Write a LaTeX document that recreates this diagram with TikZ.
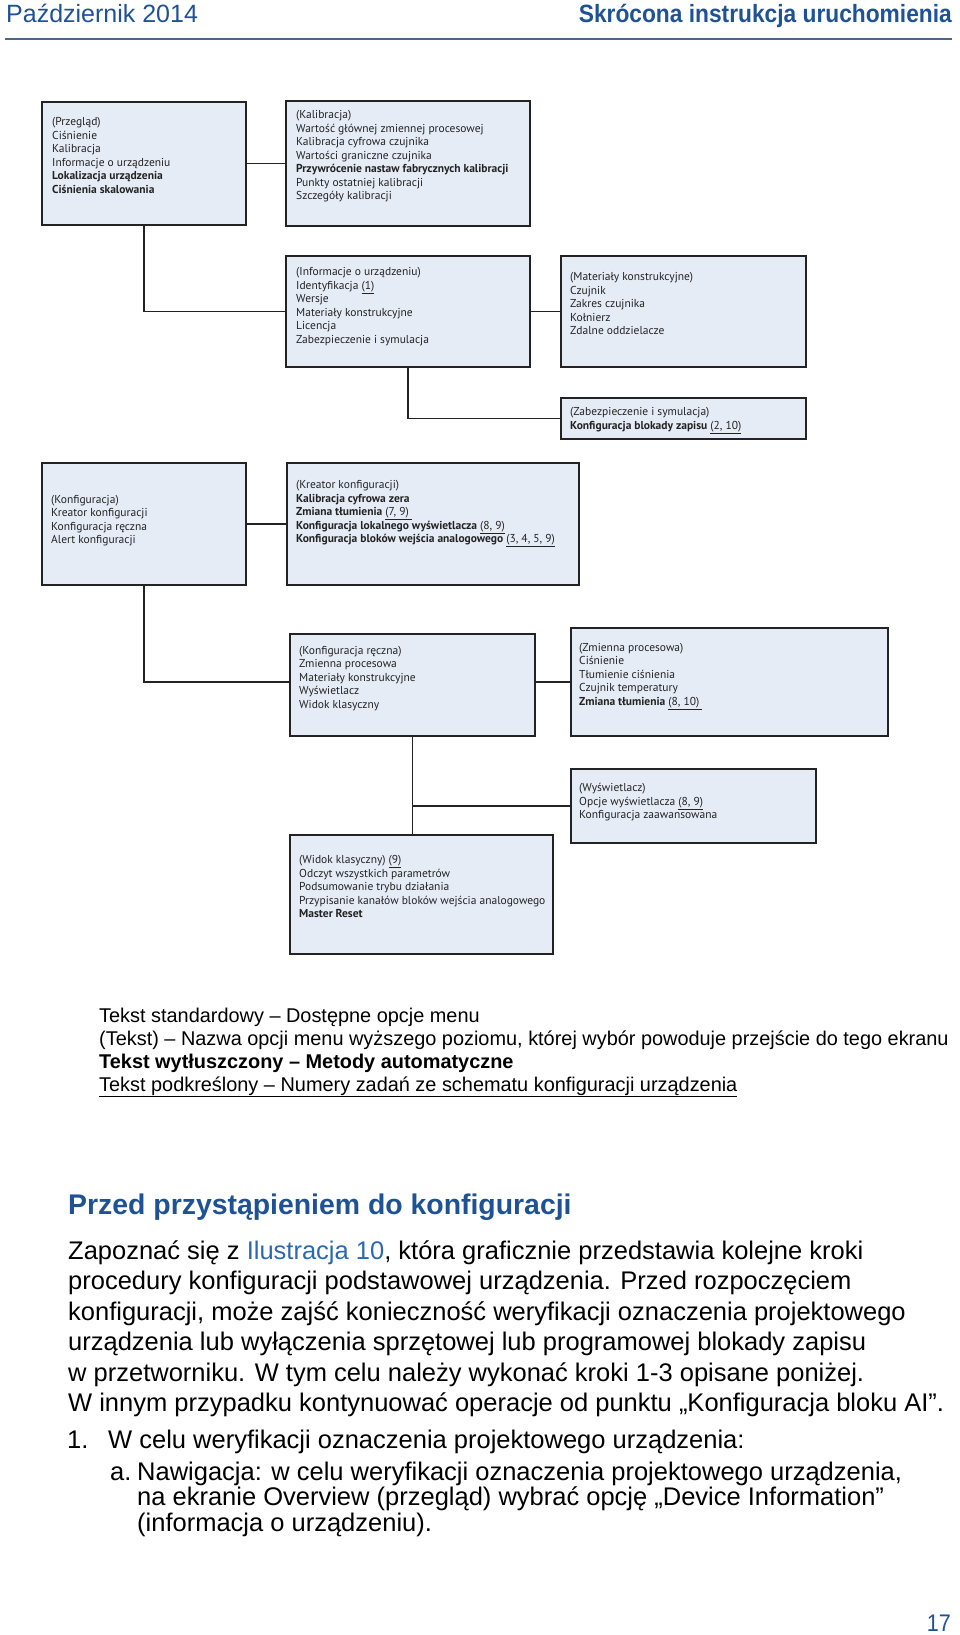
\documentclass[tikz,border=0pt]{standalone}
\usepackage{fontspec}
\setmainfont{Liberation Sans}
\newfontfamily\boxfont{PT Sans}

\definecolor{headblue}{RGB}{30,82,148}
\definecolor{linkblue}{RGB}{42,104,178}
\definecolor{boxfill}{RGB}{230,236,246}
\definecolor{inkgrey}{RGB}{35,35,35}

\tikzset{
  menubox/.style={draw=inkgrey, fill=boxfill, line width=1.6pt, rectangle, inner sep=0pt, outer sep=0pt},
  menutext/.style={anchor=base west, inner sep=0pt, align=left, text=inkgrey,
    font=\boxfont\fontsize{11.5}{13.5}\selectfont},
  wire/.style={draw=inkgrey, line width=1.6pt},
  bodytext/.style={anchor=base west, inner sep=0pt, align=left},
}

\begin{document}
\begin{tikzpicture}[x=1pt, y=-1pt]
  \useasboundingbox (0,0) rectangle (960,1635);

  % header
  \node[bodytext, text=headblue, font=\fontsize{25}{30}\selectfont] (date) at (6,23) {Październik 2014};
  \node[anchor=base east, inner sep=0pt, text=headblue, font=\bfseries\fontsize{25}{30}\selectfont] (title) at (952,23)
    {\scalebox{0.91}[1]{Skrócona instrukcja uruchomienia}};
  \draw[headblue!55!gray, line width=1.4pt] (5,39) -- (952,39);

  % menu boxes
  \node[menubox, minimum width=204, minimum height=123] (ovw) at (144,163.5) {};
  \node[menubox, minimum width=244, minimum height=125] (cal) at (408,163.5) {};
  \node[menubox, minimum width=244, minimum height=111] (info) at (408,311.5) {};
  \node[menubox, minimum width=245, minimum height=111] (mat) at (683.5,311.5) {};
  \node[menubox, minimum width=245, minimum height=41] (sec) at (683.5,418.5) {};
  \node[menubox, minimum width=204, minimum height=122] (cfg) at (144,524) {};
  \node[menubox, minimum width=292, minimum height=122] (wiz) at (433,524) {};
  \node[menubox, minimum width=245, minimum height=102] (man) at (412.5,685) {};
  \node[menubox, minimum width=317, minimum height=108] (pv) at (729.5,682) {};
  \node[menubox, minimum width=245, minimum height=74] (disp) at (693.5,806) {};
  \node[menubox, minimum width=263, minimum height=119] (cls) at (421.5,894.5) {};

  % box texts (placed by the baseline of their last line)
  \node[menutext] (ovwT) at (52,193) {(Przegląd)\\Ciśnienie\\Kalibracja\\Informacje o urządzeniu\\
    \textbf{Lokalizacja urządzenia}\\\textbf{Ciśnienia skalowania}};
  \node[menutext] (calT) at (296,199.5) {(Kalibracja)\\Wartość głównej zmiennej procesowej\\
    Kalibracja cyfrowa czujnika\\Wartości graniczne czujnika\\
    \textbf{Przywrócenie nastaw fabrycznych kalibracji}\\Punkty ostatniej kalibracji\\Szczegóły kalibracji};
  \node[menutext] (infoT) at (296,343) {(Informacje o urządzeniu)\\Identyfikacja \underline{(1)}\\Wersje\\
    Materiały konstrukcyjne\\Licencja\\Zabezpieczenie i symulacja};
  \node[menutext] (matT) at (570,334.5) {(Materiały konstrukcyjne)\\Czujnik\\Zakres czujnika\\Kołnierz\\Zdalne oddzielacze};
  \node[menutext] (secT) at (570,429) {(Zabezpieczenie i symulacja)\\
    \textbf{Konfiguracja blokady zapisu} \underline{(2, 10)}};
  \node[menutext] (cfgT) at (51,543.5) {(Konfiguracja)\\Kreator konfiguracji\\Konfiguracja ręczna\\Alert konfiguracji};
  \node[menutext] (wizT) at (296,542.5) {(Kreator konfiguracji)\\\textbf{Kalibracja cyfrowa zera}\\
    \textbf{Zmiana tłumienia} \underline{(7, 9)\ }\\
    \textbf{Konfiguracja lokalnego wyświetlacza} \underline{(8, 9)}\\
    \textbf{Konfiguracja bloków wejścia analogowego} \underline{(3, 4, 5, 9)}};
  \node[menutext] (manT) at (299,708) {(Konfiguracja ręczna)\\Zmienna procesowa\\Materiały konstrukcyjne\\
    Wyświetlacz\\Widok klasyczny};
  \node[menutext] (pvT) at (579,705) {(Zmienna procesowa)\\Ciśnienie\\Tłumienie ciśnienia\\Czujnik temperatury\\
    \textbf{Zmiana tłumienia} \underline{(8, 10)\ }};
  \node[menutext] (dispT) at (579,818.5) {(Wyświetlacz)\\Opcje wyświetlacza \underline{(8, 9)}\\
    Konfiguracja zaawansowana};
  \node[menutext] (clsT) at (299,917.5) {(Widok klasyczny) \underline{(9)}\\Odczyt wszystkich parametrów\\
    Podsumowanie trybu działania\\Przypisanie kanałów bloków wejścia analogowego\\\textbf{Master Reset}};

  % connectors
  \draw[wire] (ovw) -- (cal);
  \draw[wire] (ovw.south) |- (info.west);
  \draw[wire] (info) -- (mat);
  \draw[wire] (info.south) |- (sec.west);
  \draw[wire] (cfg) -- (wiz);
  \draw[wire] (cfg.south) |- (man.west |- pv.west);
  \draw[wire] (man.east |- pv.west) -- (pv.west);
  \draw[wire] (man.south) -- (man.south |- cls.north);
  \draw[wire] (man.south |- disp.west) -- (disp.west);

  % legend
  \node[bodytext, font=\fontsize{19.9}{23}\selectfont] (legend) at (99,1091)
    {Tekst standardowy – Dostępne opcje menu\\
     (Tekst) – Nazwa opcji menu wyższego poziomu, której wybór powoduje przejście do tego ekranu\\
     \textbf{Tekst wytłuszczony – Metody automatyczne}\\
     \underline{Tekst podkreślony – Numery zadań ze schematu konfiguracji urządzenia}};

  % text below
  \node[bodytext, text=headblue, font=\bfseries\fontsize{28.4}{30}\selectfont] (head) at (68,1214)
    {Przed przystąpieniem do konfiguracji};
  \node[bodytext, font=\fontsize{25.5}{30.5}\selectfont] (para) at (68,1411.5)
    {Zapoznać się z \textcolor{linkblue}{Ilustracja 10}, która graficznie przedstawia kolejne kroki\\
     procedury konfiguracji podstawowej urządzenia. Przed rozpoczęciem\\
     konfiguracji, może zajść konieczność weryfikacji oznaczenia projektowego\\
     urządzenia lub wyłączenia sprzętowej lub programowej blokady zapisu\\
     w przetworniku. W tym celu należy wykonać kroki 1-3 opisane poniżej.\\
     W innym przypadku kontynuować operacje od punktu „Konfiguracja bloku AI”.};
  \node[bodytext, font=\fontsize{25.5}{30}\selectfont] (stepA) at (67,1448) {1.};
  \node[bodytext, font=\fontsize{25.5}{30}\selectfont] (stepAT) at (108,1448)
    {W celu weryfikacji oznaczenia projektowego urządzenia:};
  \node[bodytext, font=\fontsize{25.5}{30}\selectfont] (subA) at (110,1480) {a.};
  \node[bodytext, font=\fontsize{25.5}{25.5}\selectfont] (subAT) at (137,1531)
    {Nawigacja: w celu weryfikacji oznaczenia projektowego urządzenia,\\
     na ekranie Overview (przegląd) wybrać opcję „Device Information”\\
     (informacja o urządzeniu).};

  % page number
  \node[anchor=base east, inner sep=0pt, text=headblue, font=\fontsize{24}{28}\selectfont] (page) at (951,1631)
    {\scalebox{0.9}[1]{17}};
\end{tikzpicture}
\end{document}
